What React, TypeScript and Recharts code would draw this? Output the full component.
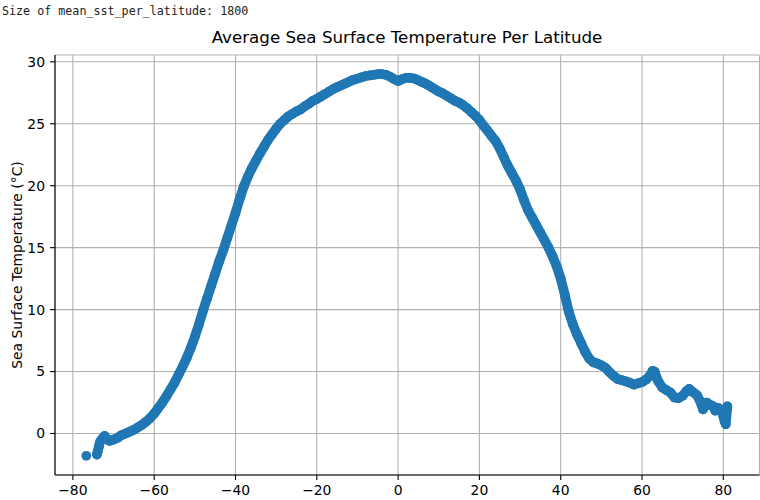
import { ScatterChart, Scatter, XAxis, YAxis, CartesianGrid } from 'recharts';

// latitude (deg) and mean sea surface temperature (°C)
const latitudes = [
  -74.1, -73.9, -73.6, -73.4, -73.1, -72.6, -72.2, -71.8, -71, -70,
  -69, -68, -67, -66, -65, -64, -63, -62, -61, -60,
  -59, -58, -57, -56, -55, -54, -53, -52, -51, -50,
  -49, -48, -47, -46, -45, -44, -43, -42, -41, -40,
  -39, -38, -37, -36, -35, -34, -33, -32, -31, -30,
  -29, -28, -27, -26, -25, -24, -23, -22, -21, -20,
  -19, -18, -17, -16, -15, -14, -13, -12, -11, -10,
  -9, -8, -7, -6, -5, -4, -3, -2, -1, 0,
  1, 2, 3, 4, 5, 6, 7, 8, 9, 10,
  11, 12, 13, 14, 15, 16, 17, 18, 19, 20,
  21, 22, 23, 24, 25, 26, 27, 28, 29, 30,
  31, 32, 33, 34, 35, 36, 37, 38, 39, 40,
  41, 42, 43, 44, 45, 46, 47, 48, 49, 50,
  51, 52, 53, 54, 55, 56, 57, 58, 59, 60,
  61, 62, 62.6, 63.1, 63.6, 64, 65, 66, 67, 68,
  69, 70, 71, 71.6, 72.5, 73.5, 74.3, 75, 75.9, 76.8,
  77.5, 78, 78.8, 79.5, 80, 80.3, 80.6, 81,
];

const meanSst = [
  -1.7, -1.45, -1.05, -0.75, -0.55, -0.35, -0.2, -0.4, -0.6, -0.5,
  -0.35, -0.12, 0.0, 0.15, 0.3, 0.5, 0.7, 0.95, 1.25, 1.6,
  2.05, 2.5, 3.0, 3.55, 4.1, 4.75, 5.4, 6.1, 6.9, 7.8,
  8.8, 9.9, 10.9, 11.9, 12.9, 13.9, 14.8, 15.8, 16.8, 17.8,
  18.9, 19.9, 20.7, 21.4, 22.0, 22.6, 23.15, 23.7, 24.15, 24.6,
  25.0, 25.3, 25.6, 25.8, 26.0, 26.15, 26.4, 26.6, 26.85, 27.0,
  27.2, 27.4, 27.6, 27.8, 27.95, 28.1, 28.25, 28.4, 28.55, 28.65,
  28.75, 28.85, 28.9, 28.95, 29.0, 29.0, 28.95, 28.8, 28.6, 28.45,
  28.6, 28.7, 28.7, 28.65, 28.5, 28.35, 28.2, 28.0, 27.8, 27.6,
  27.45, 27.25, 27.05, 26.85, 26.7, 26.5, 26.25, 25.95, 25.65, 25.3,
  24.85, 24.45, 24.0, 23.6, 23.0, 22.3, 21.6, 21.0, 20.4, 19.7,
  18.8, 18.0, 17.4, 16.8, 16.2, 15.6, 15.0, 14.3, 13.5, 12.5,
  11.2, 9.8, 8.8, 8.0, 7.3, 6.6, 6.05, 5.75, 5.65, 5.5,
  5.3, 4.95, 4.65, 4.4, 4.3, 4.2, 4.1, 3.95, 4.05, 4.15,
  4.35, 4.7, 5.05, 5.0, 4.5, 4.2, 3.7, 3.5, 3.3, 2.9,
  2.85, 3.05, 3.45, 3.6, 3.35, 3.1, 2.6, 1.95, 2.5, 2.3,
  2.2, 1.85, 2.05, 1.8, 1.4, 1.0, 0.75, 2.2,
];

// the lone southernmost point, drawn apart from the rest
const strayLatitudes = [-76.7];
const straySst = [-1.8];

const xTicks = [-80, -60, -40, -20, 0, 20, 40, 60, 80];
const yTicks = [0, 5, 10, 15, 20, 25, 30];

const BLUE = '#1f77b4';
const FONT = '"DejaVu Sans", sans-serif';

const points = latitudes.map((lat, i) => ({ lat, sst: meanSst[i] }));
const strayPoints = strayLatitudes.map((lat, i) => ({ lat, sst: straySst[i] }));

const fmt = (v: number) => String(v).replace('-', '\u2212');

const Dot = (props: any) => <circle cx={props.cx} cy={props.cy} r={4.85} fill={BLUE} />;

export default function App() {
  const tickStyle = { fill: '#000', fontSize: 13.9, fontFamily: FONT };
  return (
    <div style={{ position: 'absolute', left: 0, top: 0, width: 760, height: 500, overflow: 'hidden', background: '#fff' }}>
      <ScatterChart width={800} height={500} margin={{ top: 55, right: 40.5, bottom: 0, left: 10 }}>
        <CartesianGrid stroke="#b0b0b0" strokeWidth={1.1} />
        <XAxis
          type="number"
          dataKey="lat"
          domain={[-84.4, 88.9]}
          allowDataOverflow
          ticks={xTicks}
          tickFormatter={fmt}
          height={25}
          tickSize={5}
          tickMargin={5}
          axisLine={{ stroke: '#000', strokeWidth: 1.1 }}
          tickLine={{ stroke: '#000', strokeWidth: 1.1 }}
          tick={tickStyle}
        />
        <XAxis
          xAxisId="top"
          orientation="top"
          type="number"
          domain={[-84.4, 88.9]}
          height={0}
          tick={false}
          tickLine={false}
          axisLine={{ stroke: '#000', strokeWidth: 1.1 }}
        />
        <YAxis
          type="number"
          dataKey="sst"
          domain={[-3.35, 30.55]}
          allowDataOverflow
          ticks={yTicks}
          tickFormatter={fmt}
          width={45}
          tickSize={5}
          tickMargin={5}
          axisLine={{ stroke: '#000', strokeWidth: 1.1 }}
          tickLine={{ stroke: '#000', strokeWidth: 1.1 }}
          tick={tickStyle}
        />
        <Scatter data={strayPoints} fill={BLUE} shape={Dot} isAnimationActive={false} />
        <Scatter
          data={points}
          fill={BLUE}
          shape={Dot}
          line={{ stroke: BLUE, strokeWidth: 9.7, strokeLinejoin: 'round', strokeLinecap: 'round' }}
          lineType="joint"
          isAnimationActive={false}
        />
      </ScatterChart>
      <svg width={760} height={500} style={{ position: 'absolute', left: 0, top: 0, pointerEvents: 'none' }}>
        <text x={2} y={14.5} fontFamily='"DejaVu Sans Mono", monospace' fontSize={11.7} fill="#222">
          Size of mean_sst_per_latitude: 1800
        </text>
        <text x={407} y={43} textAnchor="middle" fontFamily={FONT} fontSize={16.7} fill="#000">
          Average Sea Surface Temperature Per Latitude
        </text>
        <text
          transform="translate(22, 265) rotate(-90)"
          textAnchor="middle"
          fontFamily={FONT}
          fontSize={13.9}
          fill="#000"
        >
          Sea Surface Temperature (°C)
        </text>
      </svg>
    </div>
  );
}
